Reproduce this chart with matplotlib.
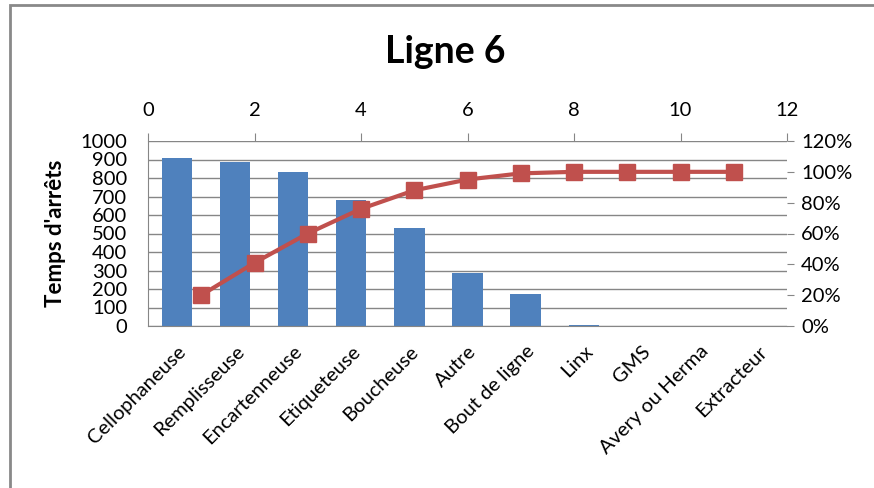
import matplotlib
matplotlib.use("Agg")
import matplotlib.pyplot as plt
from matplotlib.patches import Rectangle
from matplotlib.ticker import FuncFormatter

plt.rcParams["font.family"] = ["Lato", "DejaVu Sans"]

# Temps d'arrêts par poste, ligne 6
categories = ["Cellophaneuse", "Remplisseuse", "Encartenneuse", "Etiqueteuse",
              "Boucheuse", "Autre", "Bout de ligne", "Linx", "GMS",
              "Avery ou Herma", "Extracteur"]
stop_times = [908, 885, 832, 683, 531, 288, 171, 7, 0, 0, 0]
# pourcentage cumulé, tracé sur l'axe secondaire (x de 1 à 11)
cumul_x = [1, 2, 3, 4, 5, 6, 7, 8, 9, 10, 11]
cumul_pct = [0.20, 0.41, 0.60, 0.76, 0.88, 0.95, 0.99, 1.00, 1.00, 1.00, 1.00]

BLUE = "#4F81BD"
RED = "#C0504D"
GRID = "#868686"

fig = plt.figure(figsize=(8.74, 4.88), dpi=100)
pos = [148 / 874, 1 - 326 / 488, (787 - 148) / 874, (326 - 141) / 488]

ax = fig.add_axes(pos)
ax.bar(range(len(categories)), stop_times, width=0.52, color=BLUE, zorder=2)
ax.set_xlim(-0.5, len(categories) - 0.5)
ax.set_ylim(0, 1000)
ax.set_yticks(range(0, 1001, 100))
ax.grid(axis="y", color=GRID, lw=1, zorder=0)
ax.set_axisbelow(True)
ax.set_xticks(range(len(categories)))
ax.set_xticklabels(categories, rotation=45, ha="right", va="top",
                   rotation_mode="anchor", fontsize=14.5)
ax.tick_params(axis="x", length=0, pad=12)
ax.tick_params(axis="y", length=0, pad=15, labelsize=14.5)
for side in ("top", "right"):
    ax.spines[side].set_visible(False)
for side in ("left", "bottom"):
    ax.spines[side].set_color(GRID)

# axe secondaire : x en haut, pourcentage à droite
ax2 = fig.add_axes(pos, frameon=False)
ax2.plot(cumul_x, cumul_pct, color=RED, lw=3, marker="s", ms=12,
         markerfacecolor=RED, markeredgecolor=RED, zorder=3)
ax2.set_xlim(0, 12)
ax2.set_ylim(0, 1.2)
ax2.set_xticks(range(0, 13, 2))
ax2.set_yticks([i / 5 for i in range(7)])
ax2.yaxis.set_major_formatter(FuncFormatter(lambda v, _: f"{v * 100:.0f}%"))
ax2.xaxis.tick_top()
ax2.yaxis.tick_right()
ax2.tick_params(axis="x", length=6, color=GRID, pad=10, labelsize=14.5)
ax2.tick_params(axis="y", length=5, color=GRID, pad=5, labelsize=14.5)
ax2.spines["top"].set_visible(True)
ax2.spines["right"].set_visible(True)
ax2.spines["top"].set_color(GRID)
ax2.spines["right"].set_color(GRID)

fig.text(445 / 874, 1 - 52 / 488, "Ligne 6", ha="center", va="center",
         fontsize=27, fontweight="bold")
fig.text(55 / 874, 1 - 233 / 488, "Temps d'arrêts", ha="center", va="center",
         rotation=90, fontsize=16, fontweight="bold")

# cadre du graphique
fig.patches.append(Rectangle((10 / 874, -0.1), 1.2, 1 - 5 / 488 + 0.1,
                             transform=fig.transFigure, fill=False,
                             edgecolor="#898989", lw=2))

fig.savefig("out.png", dpi=100)
